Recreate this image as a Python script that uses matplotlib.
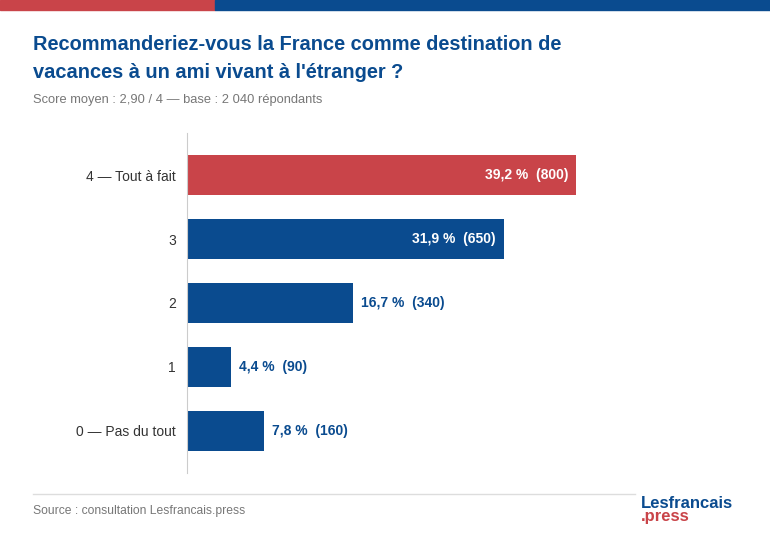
import matplotlib.pyplot as plt
from matplotlib.patches import Rectangle
from matplotlib.lines import Line2D

labels = ['0 — Pas du tout', '1', '2', '3', '4 — Tout à fait']
pcts = [7.8, 4.4, 16.7, 31.9, 39.2]
counts = [160, 90, 340, 650, 800]
colors = ['#0a4b8f', '#0a4b8f', '#0a4b8f', '#0a4b8f', '#c94449']

blue = '#0a4b8f'
red = '#c94449'

fig = plt.figure(figsize=(7.7, 5.4), dpi=100)
W, H = 770, 540

# top stripe
fig.patches.append(Rectangle((0, 1 - 10 / H), 215 / W, 10 / H, transform=fig.transFigure, color=red))
fig.patches.append(Rectangle((215 / W, 1 - 10 / H), 1 - 215 / W, 10 / H, transform=fig.transFigure, color=blue))

fig.text(33 / W, 1 - 44 / H, 'Recommanderiez-vous la France comme destination de',
         fontsize=14.4, fontweight='bold', color=blue, va='center', family='Liberation Sans')
fig.text(33 / W, 1 - 72 / H, "vacances à un ami vivant à l'étranger ?",
         fontsize=14.4, fontweight='bold', color=blue, va='center', family='Liberation Sans')
fig.text(33 / W, 1 - 100 / H, 'Score moyen : 2,90 / 4 — base : 2 040 répondants',
         fontsize=9.3, color='#777777', va='center', family='Liberation Sans')

ax = fig.add_axes([187 / W, 1 - 473 / H, (740 - 187) / W, 340 / H])
y = list(range(len(labels)))
ax.barh(y, pcts, height=0.62, color=colors)
ax.set_xlim(0, 39.2 * (740 - 187) / (576 - 187))
ax.set_ylim(-0.66, 4.66)
ax.set_yticks(y)
ax.set_yticklabels(labels, fontsize=10, color='#333333', family='Liberation Sans')
ax.tick_params(axis='y', length=0, pad=8)
ax.set_xticks([])
for s in ['top', 'right', 'bottom']:
    ax.spines[s].set_visible(False)
ax.spines['left'].set_color('#cccccc')

for yi, p, c in zip(y, pcts, counts):
    txt = f'{p:.1f} %  ({c})'.replace('.', ',')
    if p > 25:
        ax.text(p - 0.8, yi, txt, ha='right', va='center', color='white',
                fontsize=10, fontweight='bold', family='Liberation Sans')
    else:
        ax.text(p + 0.8, yi, txt, ha='left', va='center', color=blue,
                fontsize=10, fontweight='bold', family='Liberation Sans')

fig.lines.append(Line2D([33 / W, 635 / W], [1 - 494 / H] * 2, transform=fig.transFigure, color='#dddddd', lw=1))
fig.text(33 / W, 1 - 511 / H, 'Source : consultation Lesfrancais.press',
         fontsize=8.7, color='#777777', va='center', family='Liberation Sans')
fig.text(641 / W, 1 - 508 / H, 'Lesfrancais', fontsize=12, fontweight='bold', color=blue,
         va='baseline', family='Liberation Sans')
fig.text(641 / W, 1 - 521 / H, '.press', fontsize=12, fontweight='bold', color=red,
         va='baseline', family='Liberation Sans')

fig.savefig('out.png', dpi=100)
